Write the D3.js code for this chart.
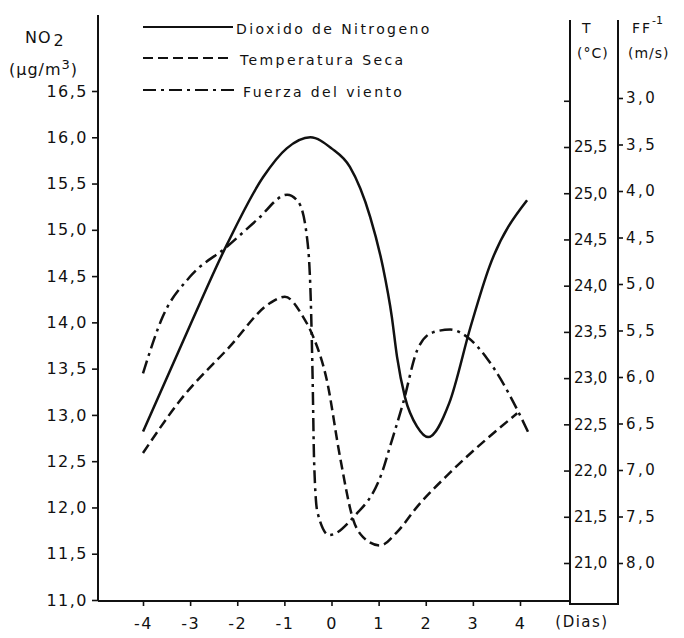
<!DOCTYPE html>
<html>
<head>
<meta charset="utf-8">
<script src="https://cdn.jsdelivr.net/npm/d3@7"></script>
<style>
  body { margin: 0; background: #fff; }
  svg text { font-family: "DejaVu Sans", sans-serif; fill: #111; }
</style>
</head>
<body>
<svg width="684" height="638"></svg>
<script>
// days on the x axis
let days = [-4, -3, -2, -1, 0, 1, 2, 3, 4];
let no2Ticks = [11.0, 11.5, 12.0, 12.5, 13.0, 13.5, 14.0, 14.5, 15.0, 15.5, 16.0, 16.5];
let tempTicks = [21.0, 21.5, 22.0, 22.5, 23.0, 23.5, 24.0, 24.5, 25.0, 25.5, 26.0];
let windTicks = [3.0, 3.5, 4.0, 4.5, 5.0, 5.5, 6.0, 6.5, 7.0, 7.5, 8.0];

// Dioxido de Nitrogeno (ug/m3), [day, value]
let no2 = [[-4, 12.82], [-3, 13.97], [-2.22, 14.84], [-1.45, 15.57], [-0.95, 15.88], [-0.45, 16.0],
    [0, 15.88], [0.39, 15.68], [0.82, 15.14], [1.09, 14.6], [1.28, 14.06], [1.39, 13.63],
    [1.56, 13.19], [1.82, 12.87], [2.05, 12.76], [2.5, 13.13], [2.95, 13.95], [3.35, 14.6],
    [4.15, 15.32]];

// Temperatura Seca (C)
let temp = [[-4, 22.19], [-3.21, 22.76], [-2.16, 23.34], [-1.31, 23.81], [-0.99, 23.88],
    [-0.6, 23.66], [-0.39, 23.45], [-0.1, 22.98], [0.18, 22.15], [0.46, 21.47],
    [0.67, 21.28], [1.03, 21.19], [1.4, 21.34], [1.82, 21.61], [2.52, 21.98], [3.94, 22.62]];

// Fuerza del viento, FF^-1 (m/s)
let wind = [[-4, 5.96], [-3.58, 5.35], [-3, 4.92], [-2.22, 4.6], [-1.58, 4.31], [-0.94, 4.04],
    [-0.7, 4.12], [-0.52, 4.5], [-0.44, 5.17], [-0.4, 6.03], [-0.37, 6.89], [-0.3, 7.45],
    [-0.05, 7.7], [0.46, 7.51], [1.09, 7.0], [1.24, 6.75], [1.52, 6.28], [1.82, 5.71],
    [2.15, 5.52], [2.52, 5.49], [2.88, 5.57], [3.3, 5.8], [3.94, 6.35], [4.17, 6.59]];

let legendItems = [
    {label: "Dioxido de Nitrogeno", dash: null},
    {label: "Temperatura Seca", dash: "10,5"},
    {label: "Fuerza del viento", dash: "13,5,3,5"}
];

let svg = d3.select("svg");
let axisLeftX = 98, tAxisX = 570, ffAxisX = 618, baseY = 601;

let x = d3.scaleLinear().domain([-4, 4]).range([143, 520]);
let y = d3.scaleLinear().domain([11, 16.5]).range([600, 91]);
let yT = d3.scaleLinear().domain([21, 25.5]).range([563, 147]);
let yF = d3.scaleLinear().domain([3, 8]).range([98, 563]);

let comma = d => d.toFixed(1).replace(".", ",");

function styleAxis(g, size, spacing) {
    g.select(".domain").remove();
    g.selectAll(".tick line").attr("stroke", "#111").attr("stroke-width", 1.6);
    g.selectAll(".tick text").attr("font-size", size).attr("letter-spacing", spacing)
        .style("font-family", "DejaVu Sans, sans-serif").attr("fill", "#111");
}

// frame lines
let frame = svg.append("g").attr("stroke", "#111").attr("stroke-width", 2).attr("fill", "none");
frame.append("line").attr("x1", axisLeftX).attr("x2", axisLeftX).attr("y1", 15).attr("y2", baseY);
frame.append("line").attr("x1", axisLeftX).attr("x2", tAxisX).attr("y1", baseY).attr("y2", baseY);
frame.append("path").attr("d", `M${tAxisX},20V${baseY + 3}H${ffAxisX}V20`);

// left axis
svg.append("g").attr("transform", `translate(${axisLeftX},0)`)
    .call(d3.axisLeft(y).tickValues(no2Ticks).tickFormat(comma).tickSize(6).tickPadding(4))
    .call(g => styleAxis(g, 16, 1.5));

// bottom axis
svg.append("g").attr("transform", `translate(0,${baseY})`)
    .call(d3.axisBottom(x).tickValues(days).tickFormat(d => String(d)).tickSize(5).tickPadding(12))
    .call(g => styleAxis(g, 16, 1.5));

// temperature axis
svg.append("g").attr("transform", `translate(${tAxisX},0)`)
    .call(d3.axisLeft(yT).tickValues(tempTicks).tickFormat(d => d === 26 ? "" : comma(d)).tickSize(6))
    .call(g => styleAxis(g, 15, 0))
    .call(g => g.selectAll(".tick text").attr("text-anchor", "start").attr("x", 4));

// wind axis
svg.append("g").attr("transform", `translate(${ffAxisX},0)`)
    .call(d3.axisRight(yF).tickValues(windTicks).tickFormat(comma).tickSize(5).tickPadding(3))
    .call(g => styleAxis(g, 15, 2.5));

// axis titles
let t1 = svg.append("text").attr("x", 25).attr("y", 43).attr("font-size", 16).attr("letter-spacing", 1);
t1.append("tspan").text("NO");
t1.append("tspan").attr("dy", 3).attr("dx", 2).text("2");
let t2 = svg.append("text").attr("x", 9).attr("y", 75).attr("font-size", 16).attr("letter-spacing", 1);
t2.append("tspan").text("(\u03bcg/m");
t2.append("tspan").attr("dy", -6).attr("font-size", 13).text("3");
t2.append("tspan").attr("dy", 6).text(")");

svg.append("text").attr("x", 582).attr("y", 33).attr("font-size", 14).text("T");
svg.append("text").attr("x", 577).attr("y", 58).attr("font-size", 14).attr("letter-spacing", 1).text("(\u00b0C)");
let t3 = svg.append("text").attr("x", 632).attr("y", 33).attr("font-size", 14).attr("letter-spacing", 2);
t3.append("tspan").text("FF");
t3.append("tspan").attr("dy", -9).attr("font-size", 11).attr("letter-spacing", 0).text("-1");
svg.append("text").attr("x", 628).attr("y", 58).attr("font-size", 14).attr("letter-spacing", 1).text("(m/s)");
svg.append("text").attr("x", 582).attr("y", 622).attr("font-size", 15).attr("letter-spacing", 1.5)
    .attr("text-anchor", "middle").attr("dominant-baseline", "central").text("(Dias)");

// series
let line = s => d3.line().x(d => x(d[0])).y(d => s(d[1])).curve(d3.curveMonotoneX);
let series = [
    {data: no2, scale: y, dash: legendItems[0].dash},
    {data: temp, scale: yT, dash: legendItems[1].dash},
    {data: wind, scale: yF, dash: legendItems[2].dash}
];
svg.append("g").selectAll("path").data(series).join("path")
    .attr("d", s => line(s.scale)(s.data))
    .attr("fill", "none").attr("stroke", "#111").attr("stroke-width", 2.5)
    .attr("stroke-dasharray", s => s.dash);

// legend
let legend = svg.append("g").selectAll("g").data(legendItems).join("g")
    .attr("transform", (d, i) => `translate(143,${[27, 58, 90][i]})`);
legend.append("line").attr("x1", 0).attr("x2", (d, i) => [90, 86, 92][i])
    .attr("stroke", "#111").attr("stroke-width", 2).attr("stroke-dasharray", d => d.dash);
legend.append("text").attr("x", (d, i) => [93, 97, 100][i]).attr("y", 2)
    .attr("dominant-baseline", "central").attr("font-size", 14).attr("letter-spacing", 2.4)
    .text(d => d.label);
</script>
</body>
</html>
